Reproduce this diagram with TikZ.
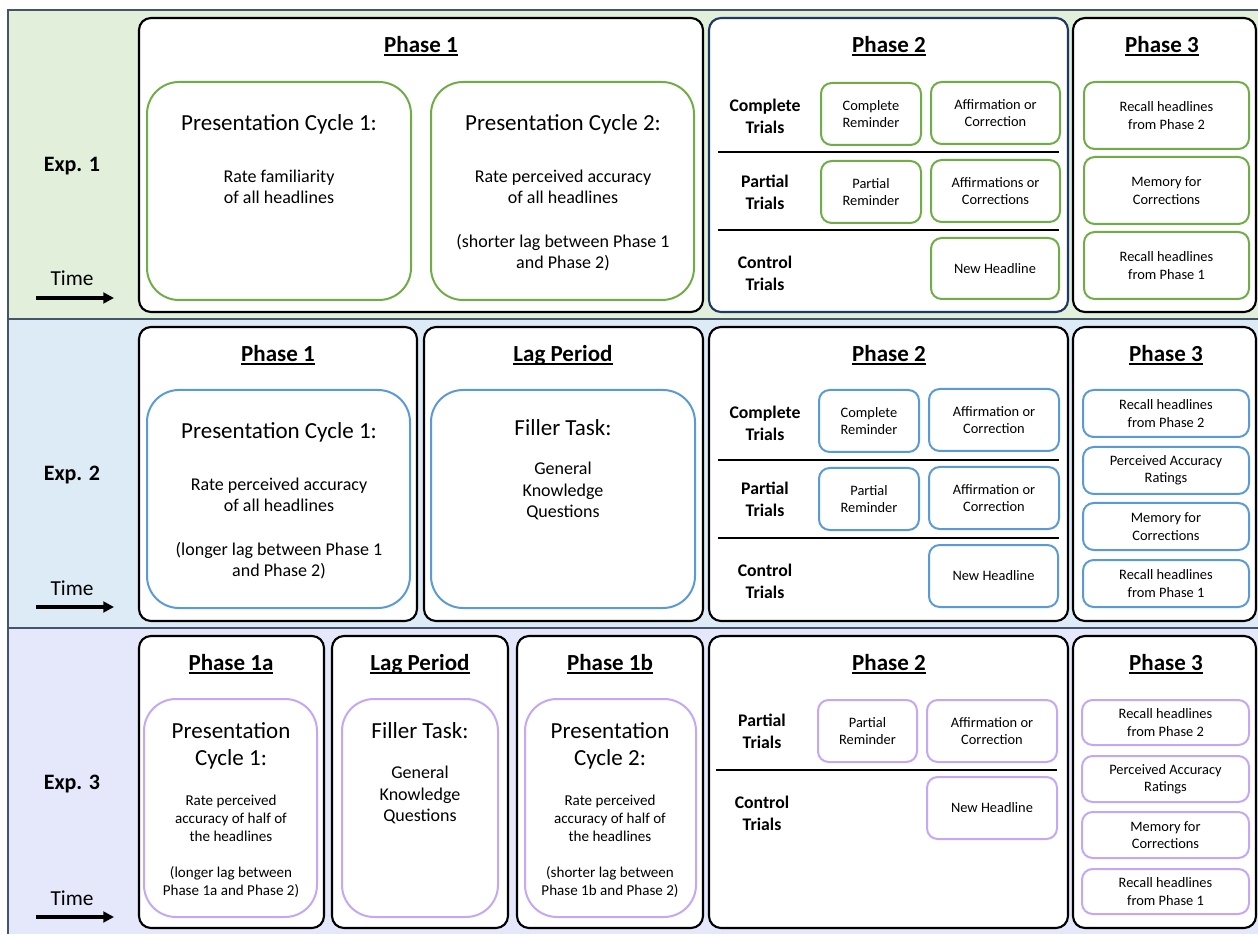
\documentclass[tikz,border=0pt]{standalone}
\usepackage{fontspec}
\setmainfont{Carlito}
\usetikzlibrary{fit,arrows.meta}
\definecolor{bandG}{HTML}{E2EFDA}
\definecolor{bandB}{HTML}{DDEBF7}
\definecolor{bandP}{HTML}{E5E7FB}
\definecolor{bandline}{HTML}{44546A}
\definecolor{navy}{HTML}{1F3864}
\definecolor{cG}{HTML}{70AD47}
\definecolor{cB}{HTML}{5B9BD5}
\definecolor{cP}{HTML}{C4A8F4}
\newcommand{\fbx}[4]{\node[#2, fit={#3 #4}] (#1) {};}
\newcommand{\tbx}[5]{\node[#2, fit={#3 #4}] (#1) {}; \node[smalltxt] (#1t) at (#1.center) {#5};}
\newcommand{\ulx}[1]{{\setbox0\hbox{#1}\rlap{\rule[-2.6pt]{\wd0}{1.2pt}}\box0}}
\tikzset{
  bandbox/.style={draw=bandline, line width=1.1pt},
  phasebox/.style={draw=black, line width=1.6pt, rounded corners=9pt, fill=white, inner sep=0pt},
  bigbox/.style={draw=#1, line width=1.5pt, rounded corners=24pt, inner sep=0pt},
  smallbox/.style={draw=#1, line width=1.5pt, rounded corners=8pt, inner sep=0pt},
  title/.style={font=\fontsize{17.25}{20}\selectfont\bfseries, inner sep=0pt},
  pres/.style={font=\fontsize{17.25}{20.25}\selectfont, align=center, inner sep=0pt},
  body/.style={font=\fontsize{13.5}{15.9}\selectfont, align=center, inner sep=0pt},
  bodysm/.style={font=\fontsize{11.3}{13.5}\selectfont, align=center, inner sep=0pt},
  smalltxt/.style={font=\fontsize{10.8}{13.1}\selectfont, align=center, inner sep=0pt},
  trials/.style={font=\fontsize{13.3}{16.5}\selectfont\bfseries, align=center, inner sep=0pt},
  explabel/.style={font=\fontsize{16.5}{19}\selectfont\bfseries, inner sep=0pt},
  timelabel/.style={font=\fontsize{16}{19}\selectfont, inner sep=0pt},
  timearrow/.style={line width=2.3pt, -{Triangle[length=8pt,width=8pt]}},
  sepline/.style={line width=1.6pt, black},
}
\begin{document}
\begin{tikzpicture}[x=0.75pt, y=-0.75pt]
\useasboundingbox (0,0) rectangle (1258,934);
% bands
\fill[bandG] (8,10) rectangle (1264,319);
\fill[bandB] (8,319) rectangle (1264,628);
\fill[bandP] (8,628) rectangle (1264,940);
\draw[bandbox] (8,10) rectangle (1264,319);
\draw[bandbox] (8,319) rectangle (1264,628);
\draw[bandbox] (8,628) rectangle (1264,940);

% ================= Exp 1 =================
\node[explabel] (e1lab) at (72,166) {Exp. 1};
\node[timelabel] (e1time) at (72,278) {Time};
\coordinate (e1a) at (36,298); \coordinate (e1b) at (114,298);
\draw[timearrow] (e1a) -- (e1b);

\fbx{e1p1}{phasebox}{(139,18)}{(703,312)}
\node[title] (e1p1t) at (421,46) {\ulx{Phase 1}};
\fbx{e1c1}{bigbox=cG}{(147,82)}{(411,300)}
\node[pres] (e1c1a) at (279,124) {Presentation Cycle 1:};
\node[body] (e1c1b) at (279,187) {Rate familiarity\\of all headlines};
\fbx{e1c2}{bigbox=cG}{(431,82)}{(694,300)}
\node[pres] (e1c2a) at (563,124) {Presentation Cycle 2:};
\node[body] (e1c2b) at (563,187) {Rate perceived accuracy\\of all headlines};
\node[body] (e1c2c) at (563,253) {(shorter lag between Phase 1\\and Phase 2)};

\node[phasebox, draw=navy, fit={(709,18) (1068,312)}] (e1p2) {};
\node[title] (e1p2t) at (889,46) {\ulx{Phase 2}};
\node[trials] (e1ct) at (765,116) {Complete\\Trials};
\tbx{e1cr}{smallbox=cG}{(821,83)}{(921,145)}{Complete\\Reminder}
\tbx{e1ac}{smallbox=cG}{(931,82)}{(1060,144)}{Affirmation or\\Correction}
\coordinate (e1l1a) at (718,152); \coordinate (e1l1b) at (1059,152);
\draw[sepline] (e1l1a) -- (e1l1b);
\node[trials] (e1pt) at (765,192) {Partial\\Trials};
\tbx{e1pr}{smallbox=cG}{(821,161)}{(921,223)}{Partial\\Reminder}
\tbx{e1ac2}{smallbox=cG}{(931,160)}{(1060,222)}{Affirmations or\\Corrections}
\coordinate (e1l2a) at (718,230); \coordinate (e1l2b) at (1059,230);
\draw[sepline] (e1l2a) -- (e1l2b);
\node[trials] (e1ctl) at (765,273) {Control\\Trials};
\tbx{e1nh}{smallbox=cG}{(931,238)}{(1059,299)}{New Headline}

\fbx{e1p3}{phasebox}{(1073,18)}{(1256,312)}
\node[title] (e1p3t) at (1162,46) {\ulx{Phase 3}};
\tbx{e1r2}{smallbox=cG}{(1084,82)}{(1249,149)}{Recall headlines\\from Phase 2}
\tbx{e1mc}{smallbox=cG}{(1084,157)}{(1249,224)}{Memory for\\Corrections}
\tbx{e1r1}{smallbox=cG}{(1084,232)}{(1249,299)}{Recall headlines\\from Phase 1}

% ================= Exp 2 =================
\node[explabel] (e2lab) at (72,475) {Exp. 2};
\node[timelabel] (e2time) at (72,588) {Time};
\coordinate (e2a) at (36,607); \coordinate (e2b) at (114,607);
\draw[timearrow] (e2a) -- (e2b);

\fbx{e2p1}{phasebox}{(139,327)}{(417,621)}
\node[title] (e2p1t) at (278,355) {\ulx{Phase 1}};
\fbx{e2c1}{bigbox=cB}{(147,390)}{(410,608)}
\node[pres] (e2c1a) at (279,432) {Presentation Cycle 1:};
\node[body] (e2c1b) at (279,495) {Rate perceived accuracy\\of all headlines};
\node[body] (e2c1c) at (279,561) {(longer lag between Phase 1\\and Phase 2)};

\fbx{e2lag}{phasebox}{(424,327)}{(703,621)}
\node[title] (e2lagt) at (563,355) {\ulx{Lag Period}};
\fbx{e2f}{bigbox=cB}{(431,390)}{(695,608)}
\node[pres] (e2fa) at (563,428) {Filler Task:};
\node[body] (e2fb) at (563,491) {General\\Knowledge\\Questions};

\fbx{e2p2}{phasebox}{(709,327)}{(1068,621)}
\node[title] (e2p2t) at (889,355) {\ulx{Phase 2}};
\node[trials] (e2ct) at (765,423) {Complete\\Trials};
\tbx{e2cr}{smallbox=cB}{(819,390)}{(919,452)}{Complete\\Reminder}
\tbx{e2ac}{smallbox=cB}{(929,389)}{(1059,451)}{Affirmation or\\Correction}
\coordinate (e2l1a) at (718,460); \coordinate (e2l1b) at (1059,460);
\draw[sepline] (e2l1a) -- (e2l1b);
\node[trials] (e2pt) at (765,499) {Partial\\Trials};
\tbx{e2pr}{smallbox=cB}{(819,468)}{(919,530)}{Partial\\Reminder}
\tbx{e2ac2}{smallbox=cB}{(929,467)}{(1059,529)}{Affirmation or\\Correction}
\coordinate (e2l2a) at (718,538); \coordinate (e2l2b) at (1059,538);
\draw[sepline] (e2l2a) -- (e2l2b);
\node[trials] (e2ctl) at (765,581) {Control\\Trials};
\tbx{e2nh}{smallbox=cB}{(929,545)}{(1058,607)}{New Headline}

\fbx{e2p3}{phasebox}{(1073,327)}{(1256,621)}
\node[title] (e2p3t) at (1166,355) {\ulx{Phase 3}};
\tbx{e2r2}{smallbox=cB}{(1083,390)}{(1249,437)}{Recall headlines\\from Phase 2}
\tbx{e2pa}{smallbox=cB}{(1083,447)}{(1249,494)}{Perceived Accuracy\\Ratings}
\tbx{e2mc}{smallbox=cB}{(1083,503)}{(1249,550)}{Memory for\\Corrections}
\tbx{e2r1}{smallbox=cB}{(1083,560)}{(1249,607)}{Recall headlines\\from Phase 1}

% ================= Exp 3 =================
\node[explabel] (e3lab) at (72,784) {Exp. 3};
\node[timelabel] (e3time) at (72,898) {Time};
\coordinate (e3a) at (36,917); \coordinate (e3b) at (114,917);
\draw[timearrow] (e3a) -- (e3b);

\fbx{e3p1a}{phasebox}{(139,636)}{(324,928)}
\node[title] (e3p1at) at (231,664) {\ulx{Phase 1a}};
\fbx{e3c1}{bigbox=cP}{(144,699)}{(317,917)}
\node[pres] (e3c1a) at (231,746) {Presentation\\Cycle 1:};
\node[bodysm] (e3c1b) at (231,818) {Rate perceived\\accuracy of half of\\the headlines};
\node[bodysm] (e3c1c) at (231,882) {(longer lag between\\Phase 1a and Phase 2)};

\fbx{e3lag}{phasebox}{(332,636)}{(508,928)}
\node[title] (e3lagt) at (420,664) {\ulx{Lag Period}};
\fbx{e3f}{bigbox=cP}{(342,699)}{(498,917)}
\node[pres] (e3fa) at (420,731) {Filler Task:};
\node[body] (e3fb) at (420,795) {General\\Knowledge\\Questions};

\fbx{e3p1b}{phasebox}{(517,636)}{(703,928)}
\node[title] (e3p1bt) at (610,664) {\ulx{Phase 1b}};
\fbx{e3c2}{bigbox=cP}{(525,699)}{(696,917)}
\node[pres] (e3c2a) at (610,746) {Presentation\\Cycle 2:};
\node[bodysm] (e3c2b) at (610,818) {Rate perceived\\accuracy of half of\\the headlines};
\node[bodysm] (e3c2c) at (610,882) {(shorter lag between\\Phase 1b and Phase 2)};

\fbx{e3p2}{phasebox}{(709,636)}{(1068,928)}
\node[title] (e3p2t) at (889,664) {\ulx{Phase 2}};
\node[trials] (e3pt) at (762,731) {Partial\\Trials};
\tbx{e3pr}{smallbox=cP}{(818,700)}{(917,762)}{Partial\\Reminder}
\tbx{e3ac}{smallbox=cP}{(927,700)}{(1057,762)}{Affirmation or\\Correction}
\coordinate (e3l1a) at (716,770); \coordinate (e3l1b) at (1057,770);
\draw[sepline] (e3l1a) -- (e3l1b);
\node[trials] (e3ctl) at (762,813) {Control\\Trials};
\tbx{e3nh}{smallbox=cP}{(927,777)}{(1057,839)}{New Headline}

\fbx{e3p3}{phasebox}{(1073,636)}{(1256,928)}
\node[title] (e3p3t) at (1166,664) {\ulx{Phase 3}};
\tbx{e3r2}{smallbox=cP}{(1082,700)}{(1249,745)}{Recall headlines\\from Phase 2}
\tbx{e3pa}{smallbox=cP}{(1082,756)}{(1249,802)}{Perceived Accuracy\\Ratings}
\tbx{e3mc}{smallbox=cP}{(1082,812)}{(1249,858)}{Memory for\\Corrections}
\tbx{e3r1}{smallbox=cP}{(1082,869)}{(1249,914)}{Recall headlines\\from Phase 1}
\end{tikzpicture}
\end{document}
